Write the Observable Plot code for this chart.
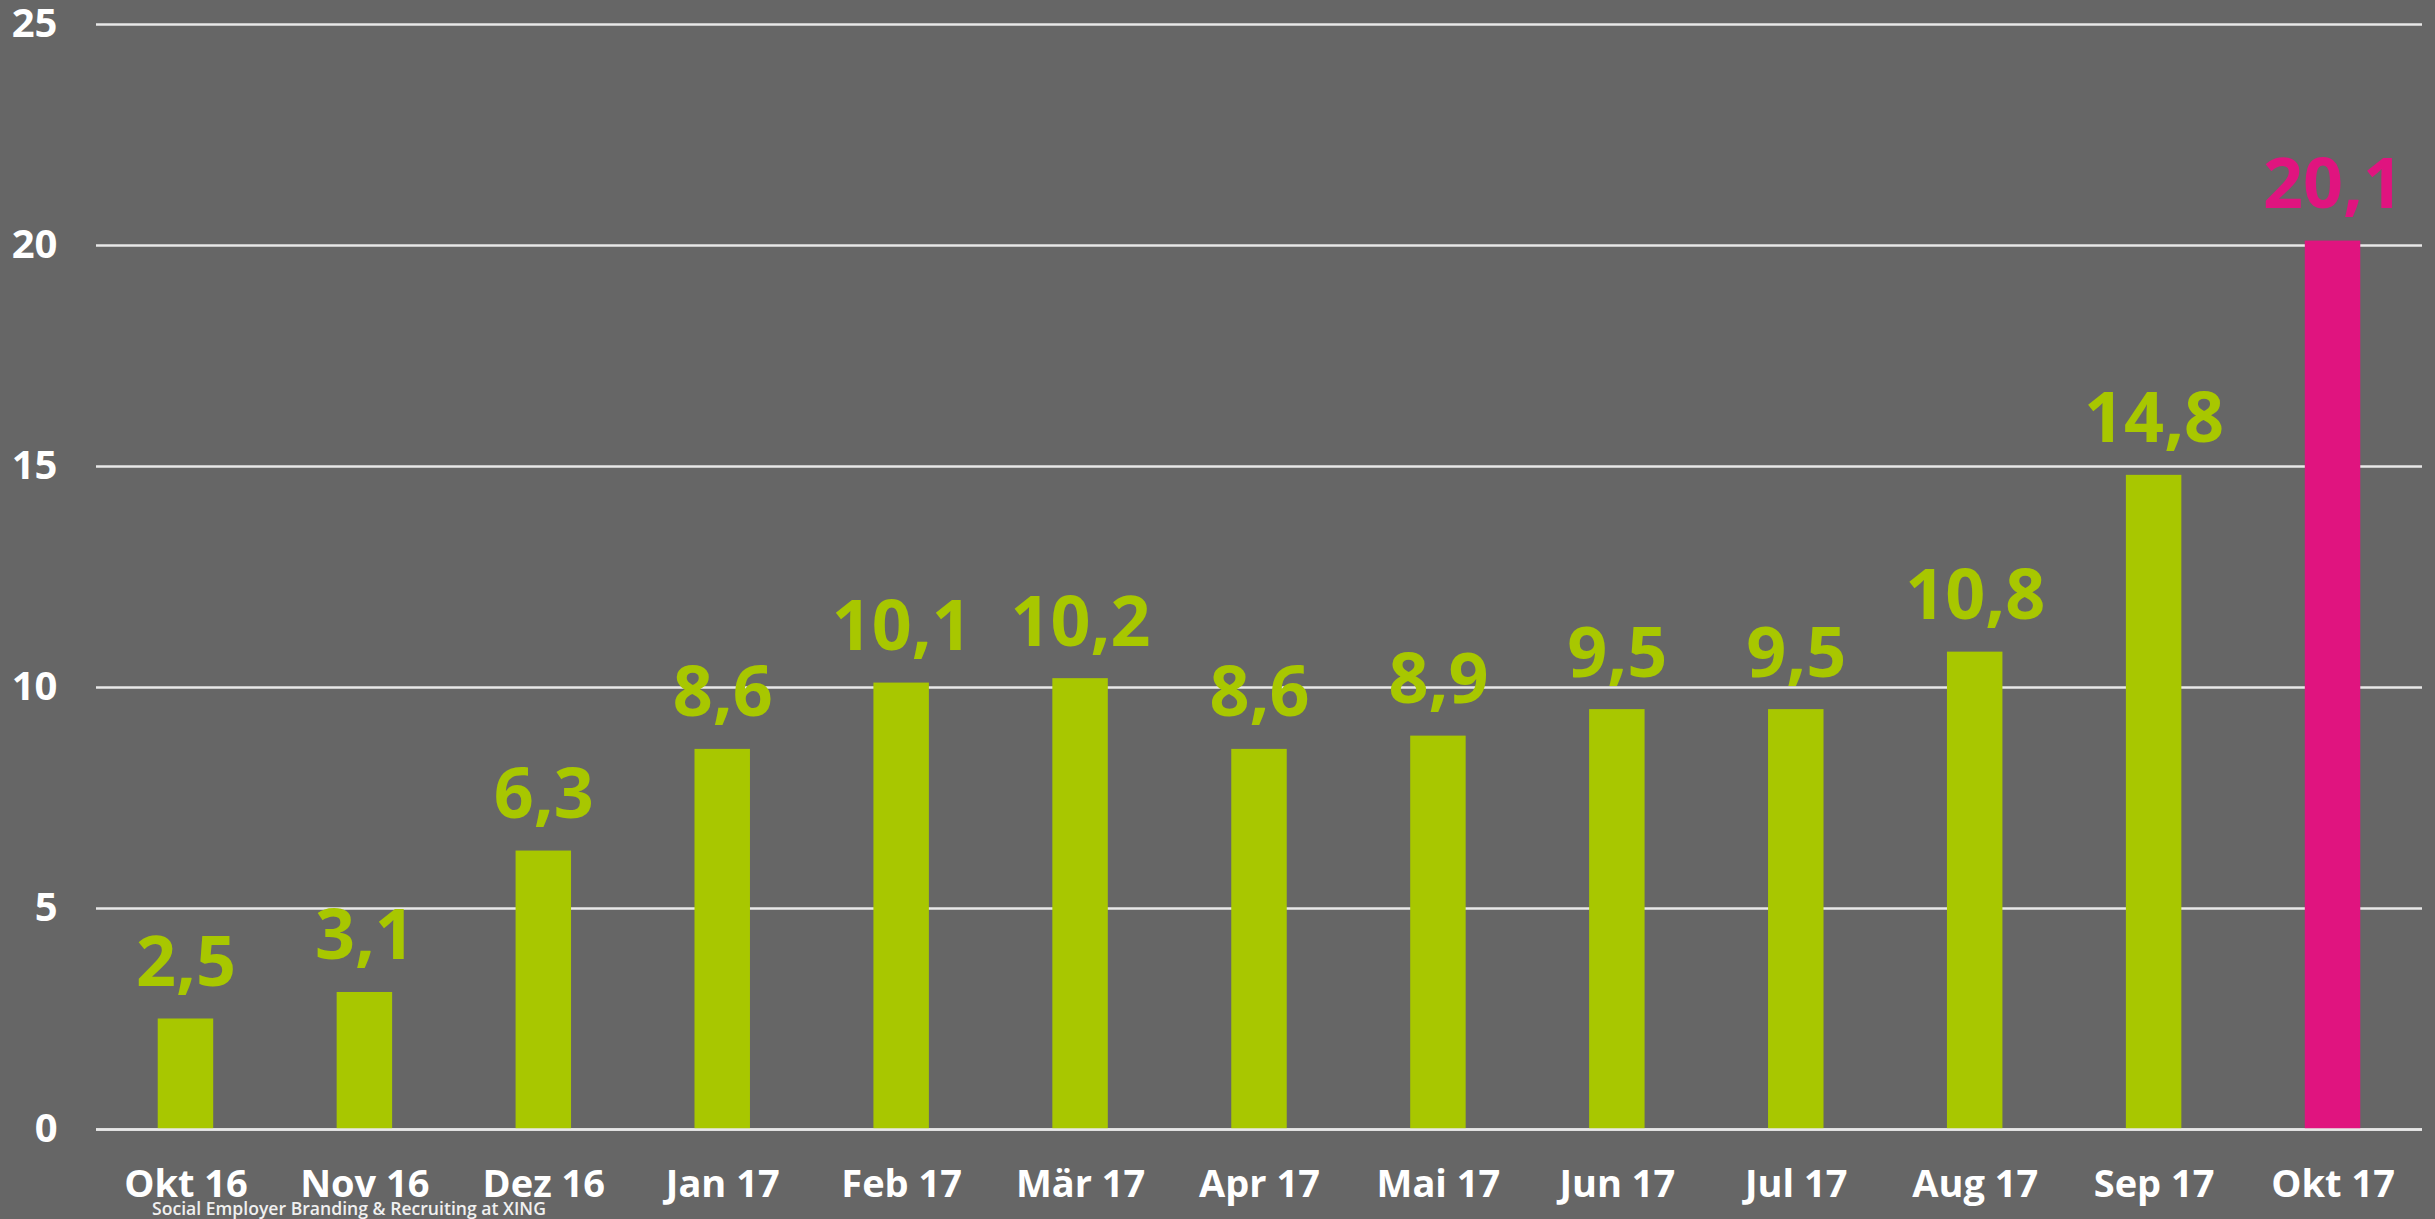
<!DOCTYPE html>
<html>
<head>
<meta charset="utf-8">
<script src="https://cdn.jsdelivr.net/npm/d3@7"></script>
<script src="https://cdn.jsdelivr.net/npm/@observablehq/plot@0.6"></script>
<style>
  html, body { margin: 0; padding: 0; background: #666666; overflow: hidden; }
  #wrap { position: relative; width: 2435px; height: 1219px; }
  #caption { position: absolute; left: 152px; top: 1198px; color: #f0f0f0;
    font-family: "Open Sans", "Roboto", sans-serif; font-weight: 600; font-size: 17.6px; line-height: 20px; white-space: nowrap; }
</style>
</head>
<body>
<div id="wrap"><div id="chart"></div><div id="caption">Social Employer Branding &amp; Recruiting at XING</div></div>
<script>
const months = ["Okt 16","Nov 16","Dez 16","Jan 17","Feb 17","Mär 17","Apr 17","Mai 17","Jun 17","Jul 17","Aug 17","Sep 17","Okt 17"];
const values = [2.5, 3.1, 6.3, 8.6, 10.1, 10.2, 8.6, 8.9, 9.5, 9.5, 10.8, 14.8, 20.1];
const highlighted = ["Okt 17"];
const yTicks = [0, 5, 10, 15, 20, 25];

const GREEN = "#a8c700";
const PINK = "#e0147f";
const FONT = '"Open Sans", "Roboto", sans-serif';

const data = months.map((m, i) => ({month: m, value: values[i], hi: highlighted.includes(m)}));
const de = d3.formatLocale({decimal: ",", thousands: ".", grouping: [3], currency: ["", " €"]});
const fmt = de.format(".1f");

const chart = Plot.plot({
  width: 2435,
  height: 1219,
  marginTop: 24,
  marginBottom: 90,
  marginLeft: 96,
  marginRight: 13,
  style: {background: "#666666", fontFamily: FONT},
  x: {domain: months, paddingInner: 0.69, paddingOuter: 0.345, round: false, label: null},
  y: {domain: [0, 25], label: null},
  marks: [
    Plot.gridY(yTicks, {stroke: "#e8e8e8", strokeOpacity: 1, strokeWidth: 2.5}),
    Plot.barY(data, {x: "month", y: "value", fill: d => d.hi ? PINK : GREEN}),
    Plot.text(data, {x: "month", y: "value", text: d => fmt(d.value), fill: d => d.hi ? PINK : GREEN,
      lineAnchor: "bottom", dy: -33, fontSize: 70, fontWeight: 700, fontFamily: FONT, className: "vlabel"}),
    Plot.axisY(yTicks, {tickSize: 0, tickPadding: 39, fontSize: 40, fontWeight: 700, fill: "white", label: null, tickFormat: d => d}),
    Plot.axisX({tickSize: 0, tickPadding: 41, fontSize: 38, fontWeight: 700, fill: "white", label: null}),
    Plot.ruleY([0], {stroke: "#e8e8e8", strokeWidth: 2.5})
  ]
});
chart.querySelectorAll(".vlabel text").forEach(t => t.style.fontStretch = "90%");
document.getElementById("chart").appendChild(chart);
</script>
</body>
</html>
